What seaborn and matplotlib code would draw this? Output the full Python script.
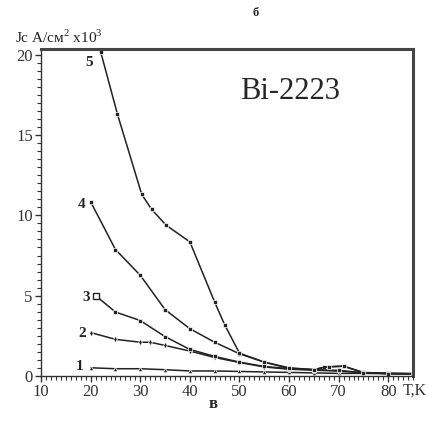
import numpy as np
import pandas as pd
import matplotlib
matplotlib.use("Agg")
import matplotlib.pyplot as plt
import seaborn as sns
from matplotlib.ticker import MultipleLocator

# curve data: temperature T (K) and Jc (A/cm2 x10^3)
t1 = [20, 25, 30, 35, 40, 45, 50, 55, 60, 65, 70, 75, 80, 85]
j1 = [0.51, 0.45, 0.45, 0.39, 0.31, 0.31, 0.28, 0.25, 0.22, 0.19, 0.16, 0.16, 0.14, 0.14]

t2 = [20, 25, 30, 32, 35, 40, 45, 50, 55, 60, 65, 70, 75, 80, 85]
j2 = [2.7, 2.28, 2.1, 2.1, 1.9, 1.55, 1.15, 0.84, 0.56, 0.42, 0.36, 0.3, 0.2, 0.15, 0.14]

t3 = [21, 25, 30, 35, 40, 45, 50, 55, 60, 65, 67, 71, 75, 80, 85]
j3 = [5.0, 3.98, 3.45, 2.45, 1.65, 1.22, 0.86, 0.59, 0.45, 0.38, 0.55, 0.6, 0.22, 0.16, 0.14]

t4 = [20, 25, 30, 35, 40, 45, 50, 55, 60, 65, 70, 75, 80, 85]
j4 = [10.84, 7.87, 6.27, 4.13, 2.94, 2.1, 1.38, 0.86, 0.51, 0.39, 0.35, 0.2, 0.15, 0.14]

t5 = [22, 25.4, 30.3, 32.3, 35.2, 40, 45, 47, 50, 55, 60, 65, 68, 71, 75, 80, 85]
j5 = [20.2, 16.3, 11.3, 10.37, 9.39, 8.35, 4.6, 3.2, 1.42, 0.86, 0.47, 0.4, 0.58, 0.62, 0.2, 0.15, 0.14]

curve_names = ["1", "2", "3", "4", "5"]
x_ticks = [10, 20, 30, 40, 50, 60, 70, 80]
y_ticks = [0, 5, 10, 15, 20]

sns.set_theme(style="ticks")
plt.rcParams["font.family"] = ["Liberation Serif", "DejaVu Serif"]
plt.rcParams["mathtext.fontset"] = "custom"
plt.rcParams["mathtext.rm"] = "Liberation Serif"

fig = plt.figure(figsize=(4.28, 4.21), dpi=100)
ax = fig.add_axes([0.096, 0.107, 0.869, 0.777])

series = [(t1, j1, "^"), (t2, j2, "d"), (t3, j3, "s"), (t4, j4, "s"), (t5, j5, "s")]
for (t, j, m), name in zip(series, curve_names):
    df = pd.DataFrame({"T": t, "Jc": j})
    sns.lineplot(data=df, x="T", y="Jc", ax=ax, color="#222222", lw=1.1,
                 marker=m, markersize=3.2, markeredgewidth=0.5,
                 sort=False, estimator=None)

# open marker at start of curve 3
ax.plot(t3[:1], j3[:1], "s", ms=4, mfc="white", mec="#222222", mew=1)

# curve numbers
lab_pos = {"5": (19.6, 19.5), "4": (18.2, 10.7), "3": (19.0, 4.9), "2": (18.2, 2.65), "1": (17.8, 0.6)}
for name in curve_names:
    x, y = lab_pos[name]
    ax.text(x, y, name, fontsize=11, fontweight="bold", ha="center", va="center")

ax.text(0.67, 0.87, "Bi-2223", transform=ax.transAxes, fontsize=22,
        ha="center", va="center")

ax.set_xlim(10, 85)
ax.set_ylim(0, 20.37)
ax.set_xticks(x_ticks)
ax.set_yticks(y_ticks)
ax.xaxis.set_minor_locator(MultipleLocator(1))
ax.yaxis.set_minor_locator(MultipleLocator(0.5))
ax.tick_params(which="major", length=4, width=1, colors="#333333", labelsize=12, direction="out", pad=2)
ax.tick_params(which="minor", length=3, width=0.8, colors="#333333", direction="out")
ax.set_xlabel("")
ax.set_ylabel("")

for side in ["left", "bottom"]:
    ax.spines[side].set_linewidth(1.0)
    ax.spines[side].set_color("#333333")
for side in ["top", "right"]:
    ax.spines[side].set_visible(True)
    ax.spines[side].set_linewidth(2.2)
    ax.spines[side].set_color("#444444")

fig.text(0.035, 0.912, "Jc A/см$^2$ x10$^3$", fontsize=11, ha="left", va="center", color="#222222")
fig.text(0.997, 0.073, "T,K", fontsize=11.5, ha="right", va="center", color="#333333")
fig.text(0.598, 0.968, "б", fontsize=9, fontweight="bold", ha="center", va="center")
fig.text(0.498, 0.04, "в", fontsize=12, fontweight="bold", ha="center", va="center")

fig.savefig("out.png", dpi=100)
